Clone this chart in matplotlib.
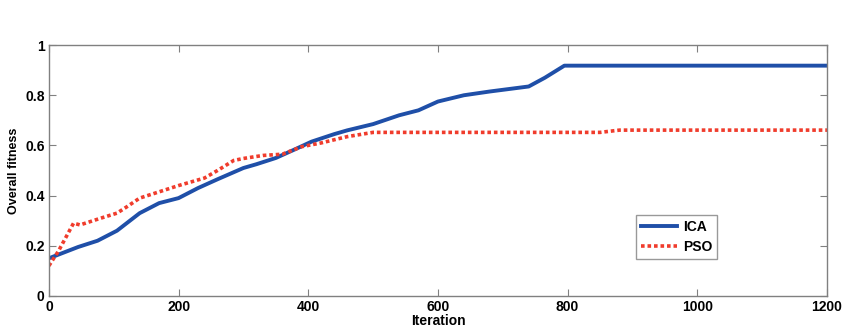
import matplotlib
matplotlib.use('Agg')
import matplotlib.pyplot as plt

# ICA curve
ica_x = [0, 20, 45, 75, 90, 105, 140, 170, 200, 230, 260, 300, 320, 350, 380, 405, 440, 460, 500, 540, 570, 600, 640, 680, 740, 765, 795, 1200]
ica_y = [0.15, 0.17, 0.195, 0.22, 0.24, 0.26, 0.33, 0.37, 0.39, 0.43, 0.465, 0.51, 0.525, 0.55, 0.585, 0.615, 0.645, 0.66, 0.685, 0.72, 0.74, 0.775, 0.8, 0.815, 0.835, 0.87, 0.918, 0.918]

# PSO curve
pso_x = [0, 15, 38, 48, 80, 105, 120, 140, 170, 200, 240, 260, 285, 300, 330, 360, 390, 420, 460, 500, 850, 880, 1200]
pso_y = [0.12, 0.18, 0.29, 0.283, 0.31, 0.33, 0.355, 0.39, 0.415, 0.44, 0.47, 0.5, 0.54, 0.548, 0.56, 0.565, 0.595, 0.61, 0.635, 0.652, 0.652, 0.661, 0.661]

plt.rcParams['font.family'] = ['Liberation Sans', 'DejaVu Sans']
plt.rcParams['font.weight'] = 'bold'

fig, ax = plt.subplots(figsize=(8.43, 3.34), dpi=100)
fig.subplots_adjust(left=0.058, right=0.981, top=0.865, bottom=0.114)

ax.plot(ica_x, ica_y, color='#1f4fa8', linewidth=2.8, label='ICA')
ax.plot(pso_x, pso_y, color='#f03c2c', linewidth=2.6, linestyle=(0, (1, 0.8)), label='PSO')

ax.set_xlim(0, 1200)
ax.set_ylim(0, 1)
ax.set_xticks([0, 200, 400, 600, 800, 1000, 1200])
ax.set_yticks([0, 0.2, 0.4, 0.6, 0.8, 1])
ax.set_yticklabels(['0', '0.2', '0.4', '0.6', '0.8', '1'])
ax.tick_params(direction='in', top=True, right=True, labelsize=10, length=5, color='#808080', pad=3)
for s in ax.spines.values():
    s.set_color('#808080')
    s.set_linewidth(1.0)

ax.set_xlabel('Iteration', fontsize=10, fontweight='bold', labelpad=0)
ax.set_ylabel('Overall fitness', fontsize=9, fontweight='bold', labelpad=4)

leg = ax.legend(loc='upper left', bbox_to_anchor=(0.755, 0.323), fontsize=10, frameon=True,
                fancybox=False, handlelength=2.6, borderpad=0.35, labelspacing=0.45,
                handletextpad=0.4, borderaxespad=0)
leg.get_frame().set_edgecolor('#808080')
leg.get_frame().set_linewidth(1.0)

plt.savefig('out.png', dpi=100)
